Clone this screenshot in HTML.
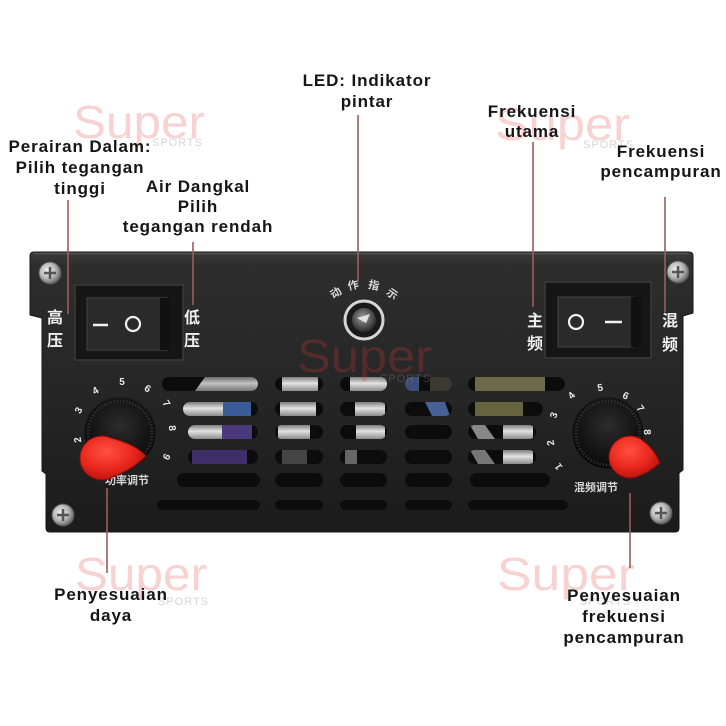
<!DOCTYPE html>
<html><head><meta charset="utf-8">
<style>
html,body{margin:0;padding:0;background:#fff;}
svg{display:block}
.lb{font-family:"Liberation Sans",Arial,sans-serif;font-weight:bold;font-size:17px;letter-spacing:0.9px;fill:#151515;}
.cn{font-family:"Liberation Sans","Noto Sans CJK SC",sans-serif;font-weight:bold;fill:#f0f0f0;font-size:16px;}
.cs{font-family:"Liberation Sans","Noto Sans CJK SC",sans-serif;font-weight:bold;fill:#d8d8d8;font-size:11px;}
.num{font-family:"Liberation Sans",sans-serif;font-weight:bold;fill:#e8e8e8;font-size:10px;}
.wm{font-family:"Liberation Sans",sans-serif;font-size:46px;fill:#e23b3b;opacity:.23;}
.wms{font-family:"Liberation Sans",sans-serif;font-size:11px;fill:#888;opacity:.35;letter-spacing:1px}
</style></head><body>
<svg width="726" height="726" viewBox="0 0 726 726" xmlns="http://www.w3.org/2000/svg">
<defs>
  <linearGradient id="pg" x1="0" y1="0" x2="0" y2="1">
    <stop offset="0" stop-color="#3c3c3c"/>
    <stop offset="0.05" stop-color="#2d2d2d"/>
    <stop offset="0.5" stop-color="#262626"/>
    <stop offset="1" stop-color="#1b1b1b"/>
  </linearGradient>
  <radialGradient id="sc" cx="0.4" cy="0.4" r="0.6">
    <stop offset="0" stop-color="#f2f2f2"/>
    <stop offset="0.6" stop-color="#b5b5b5"/>
    <stop offset="1" stop-color="#6a6a6a"/>
  </radialGradient>
  <radialGradient id="red" cx="0.4" cy="0.35" r="0.7">
    <stop offset="0" stop-color="#ff5040"/>
    <stop offset="0.6" stop-color="#e8261c"/>
    <stop offset="1" stop-color="#b0120c"/>
  </radialGradient>
  <radialGradient id="cyl" cx="0.5" cy="0.4" r="0.6">
    <stop offset="0" stop-color="#2c2c2c"/>
    <stop offset="1" stop-color="#080808"/>
  </radialGradient>
  <radialGradient id="lens" cx="0.45" cy="0.4" r="0.6">
    <stop offset="0" stop-color="#9a9a9a"/>
    <stop offset="1" stop-color="#2a2a2a"/>
  </radialGradient>
  <linearGradient id="sil" x1="0" y1="0" x2="0" y2="1">
    <stop offset="0" stop-color="#7d7d7d"/>
    <stop offset="0.45" stop-color="#e2e2e2"/>
    <stop offset="1" stop-color="#8a8a8a"/>
  </linearGradient>
  <clipPath id="slots">
    <rect x="162" y="377" width="96" height="14" rx="7"/>
    <rect x="183" y="402" width="75" height="14" rx="7"/>
    <rect x="188" y="425" width="70" height="14" rx="7"/>
    <rect x="188" y="450" width="70" height="14" rx="7"/>
    <rect x="177" y="473" width="83" height="14" rx="7"/>
    <rect x="157" y="500" width="103" height="10" rx="5"/>
    <rect x="275" y="377" width="48" height="14" rx="7"/>
    <rect x="275" y="402" width="48" height="14" rx="7"/>
    <rect x="275" y="425" width="48" height="14" rx="7"/>
    <rect x="275" y="450" width="48" height="14" rx="7"/>
    <rect x="275" y="473" width="48" height="14" rx="7"/>
    <rect x="275" y="500" width="48" height="10" rx="5"/>
    <rect x="340" y="377" width="47" height="14" rx="7"/>
    <rect x="340" y="402" width="47" height="14" rx="7"/>
    <rect x="340" y="425" width="47" height="14" rx="7"/>
    <rect x="340" y="450" width="47" height="14" rx="7"/>
    <rect x="340" y="473" width="47" height="14" rx="7"/>
    <rect x="340" y="500" width="47" height="10" rx="5"/>
    <rect x="405" y="377" width="47" height="14" rx="7"/>
    <rect x="405" y="402" width="47" height="14" rx="7"/>
    <rect x="405" y="425" width="47" height="14" rx="7"/>
    <rect x="405" y="450" width="47" height="14" rx="7"/>
    <rect x="405" y="473" width="47" height="14" rx="7"/>
    <rect x="405" y="500" width="47" height="10" rx="5"/>
    <rect x="468" y="377" width="97" height="14" rx="7"/>
    <rect x="468" y="402" width="75" height="14" rx="7"/>
    <rect x="468" y="425" width="68" height="14" rx="7"/>
    <rect x="468" y="450" width="68" height="14" rx="7"/>
    <rect x="470" y="473" width="80" height="14" rx="7"/>
    <rect x="468" y="500" width="100" height="10" rx="5"/>
  </clipPath>
</defs>

<rect width="726" height="726" fill="#fff"/>

<!-- Panel -->
<path d="M34,252 L689,252 Q693,252 693,256 L693,313 L683,316 L683,470 L679,473 L679,528 Q679,532 675,532 L50,532 Q46,532 46,528 L46,474 L42,471 L42,318 L30,315 L30,256 Q30,252 34,252 Z" fill="url(#pg)" stroke="#151515" stroke-width="1"/>
<line x1="34" y1="253.5" x2="689" y2="253.5" stroke="#585858" stroke-width="1.2"/>

<!-- Screws -->
<g>
  <circle cx="50" cy="273" r="11" fill="url(#sc)" stroke="#555"/>
  <path d="M44,273 H56 M50,267 V279" stroke="#555" stroke-width="2.5"/>
  <circle cx="63" cy="515" r="11" fill="url(#sc)" stroke="#555"/>
  <path d="M57,515 H69 M63,509 V521" stroke="#555" stroke-width="2.5"/>
  <circle cx="678" cy="272" r="11" fill="url(#sc)" stroke="#555"/>
  <path d="M672,272 H684 M678,266 V278" stroke="#555" stroke-width="2.5"/>
  <circle cx="661" cy="513" r="11" fill="url(#sc)" stroke="#555"/>
  <path d="M655,513 H667 M661,507 V519" stroke="#555" stroke-width="2.5"/>
</g>

<!-- Left switch -->
<rect x="75" y="285" width="108" height="75" fill="#161616" stroke="#3a3a3a" stroke-width="1.5"/>
<rect x="87" y="298" width="80" height="52" fill="#2a2a2a" stroke="#444" stroke-width="1"/>
<rect x="160" y="298" width="10" height="52" fill="#111"/>
<line x1="93" y1="325" x2="108" y2="325" stroke="#f0f0f0" stroke-width="2.5"/>
<circle cx="133" cy="324" r="7" fill="none" stroke="#f0f0f0" stroke-width="2.2"/>

<!-- Right switch -->
<rect x="545" y="282" width="106" height="76" fill="#161616" stroke="#3a3a3a" stroke-width="1.5"/>
<rect x="558" y="297" width="75" height="50" fill="#2a2a2a" stroke="#444" stroke-width="1"/>
<rect x="631" y="297" width="10" height="50" fill="#111"/>
<circle cx="576" cy="322" r="7" fill="none" stroke="#f0f0f0" stroke-width="2.2"/>
<line x1="605" y1="322" x2="622" y2="322" stroke="#f0f0f0" stroke-width="2.5"/>

<!-- Chinese switch labels -->
<text class="cn" x="55" y="323" text-anchor="middle">高</text>
<text class="cn" x="55" y="346" text-anchor="middle">压</text>
<text class="cn" x="192" y="323" text-anchor="middle">低</text>
<text class="cn" x="192" y="346" text-anchor="middle">压</text>
<text class="cn" x="535" y="326" text-anchor="middle">主</text>
<text class="cn" x="535" y="349" text-anchor="middle">频</text>
<text class="cn" x="670" y="326" text-anchor="middle">混</text>
<text class="cn" x="670" y="350" text-anchor="middle">频</text>

<!-- LED -->
<circle cx="364" cy="320" r="19" fill="#1a1a1a" stroke="#d5d5d5" stroke-width="3"/>
<circle cx="364" cy="320" r="12" fill="url(#lens)"/>
<path d="M357,318 L370,314 L366,323 Z" fill="#e0e0e0"/>
<text class="cs" transform="translate(338,296) rotate(-35)" text-anchor="middle">动</text>
<text class="cs" transform="translate(354,289) rotate(-12)" text-anchor="middle">作</text>
<text class="cs" transform="translate(373,289) rotate(12)" text-anchor="middle">指</text>
<text class="cs" transform="translate(390,297) rotate(35)" text-anchor="middle">示</text>

<!-- Vents -->
<g clip-path="url(#slots)">
  <rect x="150" y="370" width="430" height="145" fill="#0c0c0c"/>
  <polygon points="205,377 258,377 258,391 195,391" fill="url(#sil)" opacity="0.85"/>
  <rect x="183" y="402" width="40" height="14" fill="url(#sil)"/>
  <rect x="223" y="402" width="28" height="14" fill="#3a5a9a"/>
  <rect x="188" y="425" width="34" height="14" fill="url(#sil)"/>
  <rect x="222" y="425" width="30" height="14" fill="#4a3a7a"/>
  <rect x="192" y="450" width="55" height="14" fill="#3e2f6a"/>
  <rect x="282" y="377" width="36" height="14" fill="url(#sil)"/>
  <rect x="280" y="402" width="36" height="14" fill="url(#sil)"/>
  <rect x="278" y="425" width="32" height="14" fill="url(#sil)"/>
  <rect x="282" y="450" width="25" height="14" fill="#444"/>
  <rect x="350" y="377" width="37" height="14" fill="url(#sil)"/>
  <rect x="355" y="402" width="30" height="14" fill="url(#sil)"/>
  <rect x="356" y="425" width="29" height="14" fill="url(#sil)"/>
  <rect x="345" y="450" width="12" height="14" fill="#666"/>
  <rect x="405" y="377" width="14" height="14" fill="#3c4f78"/>
  <rect x="430" y="377" width="22" height="14" fill="#3a3a30"/>
  <polygon points="425,402 445,402 450,416 432,416" fill="#48609a"/>
  <rect x="475" y="377" width="70" height="14" fill="#6d6a4c"/>
  <rect x="475" y="402" width="48" height="14" fill="#66633f"/>
  <polygon points="470,425 485,425 495,439 478,439" fill="#888"/>
  <rect x="503" y="425" width="30" height="14" fill="url(#sil)"/>
  <polygon points="470,450 485,450 495,464 478,464" fill="#777"/>
  <rect x="503" y="450" width="30" height="14" fill="url(#sil)"/>
</g>

<!-- Left knob -->
<text class="cs" x="127" y="484" text-anchor="middle" fill="#cfcfcf">功率调节</text>
<circle cx="120" cy="433" r="36" fill="url(#cyl)" stroke="#222"/>
<circle cx="120" cy="433" r="32" fill="none" stroke="#333" stroke-width="3" stroke-dasharray="1.2 2"/>
<g text-anchor="middle">
  <text class="num" transform="translate(77,440) rotate(-99)" dy="4">2</text>
  <text class="num" transform="translate(78,410) rotate(-61)" dy="4">3</text>
  <text class="num" transform="translate(95,390) rotate(-30)" dy="4">4</text>
  <text class="num" transform="translate(122,381)" dy="4">5</text>
  <text class="num" transform="translate(148,388) rotate(32)" dy="4">6</text>
  <text class="num" transform="translate(167,403) rotate(57)" dy="4">7</text>
  <text class="num" transform="translate(173,428) rotate(85)" dy="4">8</text>
  <text class="num" transform="translate(167,457) rotate(117)" dy="4">9</text>
</g>
<path d="M111.3,438.1 Q135,444 146,456 Q132,470 114.6,476 A22,22 0 1,1 111.3,438.1 Z" fill="url(#red)" stroke="#8a0d08" stroke-width="1"/>

<!-- Right knob -->
<text class="cs" x="596" y="491" text-anchor="middle" fill="#cfcfcf">混频调节</text>
<circle cx="608" cy="433" r="36" fill="url(#cyl)" stroke="#222"/>
<circle cx="608" cy="433" r="32" fill="none" stroke="#333" stroke-width="3" stroke-dasharray="1.2 2"/>
<g text-anchor="middle">
  <text class="num" transform="translate(558,467) rotate(-124)" dy="4">1</text>
  <text class="num" transform="translate(550,443) rotate(-100)" dy="4">2</text>
  <text class="num" transform="translate(553,415) rotate(-72)" dy="4">3</text>
  <text class="num" transform="translate(571,395) rotate(-44)" dy="4">4</text>
  <text class="num" transform="translate(600,387) rotate(-10)" dy="4">5</text>
  <text class="num" transform="translate(626,395) rotate(25)" dy="4">6</text>
  <text class="num" transform="translate(641,408) rotate(53)" dy="4">7</text>
  <text class="num" transform="translate(648,432) rotate(88)" dy="4">8</text>
</g>
<path d="M642,439.8 Q655,450 660,463 Q650,472 638.9,476 A21,21 0 1,1 642,439.8 Z" fill="url(#red)" stroke="#8a0d08" stroke-width="1"/>

<!-- Watermarks -->
<text class="wm" x="73" y="138" textLength="132" lengthAdjust="spacingAndGlyphs">Super</text>
<text class="wms" x="152" y="146">SPORTS</text>
<text class="wm" x="495" y="140" textLength="135" lengthAdjust="spacingAndGlyphs">Super</text>
<text class="wms" x="583" y="148">SPORTS</text>
<text class="wm" x="297" y="372" textLength="135" lengthAdjust="spacingAndGlyphs">Super</text>
<text class="wms" x="380" y="382">SPORTS</text>
<text class="wm" x="75" y="590" textLength="132" lengthAdjust="spacingAndGlyphs">Super</text>
<text class="wms" x="158" y="605">SPORTS</text>
<text class="wm" x="497" y="590" textLength="138" lengthAdjust="spacingAndGlyphs">Super</text>
<text class="wms" x="580" y="605">SPORTS</text>

<!-- Leader lines -->
<g stroke="#9e5c5c" stroke-width="1.6">
  <line x1="68" y1="200" x2="68" y2="314"/>
  <line x1="193" y1="242" x2="193" y2="305"/>
  <line x1="358" y1="115" x2="358" y2="282"/>
  <line x1="533" y1="142" x2="533" y2="307"/>
  <line x1="665" y1="197" x2="665" y2="312"/>
  <line x1="107" y1="488" x2="107" y2="573"/>
  <line x1="630" y1="493" x2="630" y2="568"/>
</g>

<!-- Labels -->
<g text-anchor="middle">
  <text class="lb" x="80" y="152">Perairan Dalam:</text>
  <text class="lb" x="80" y="173">Pilih tegangan</text>
  <text class="lb" x="80" y="194">tinggi</text>

  <text class="lb" x="198" y="192">Air Dangkal</text>
  <text class="lb" x="198" y="212">Pilih</text>
  <text class="lb" x="198" y="232">tegangan rendah</text>

  <text class="lb" x="367" y="86">LED: Indikator</text>
  <text class="lb" x="367" y="107">pintar</text>

  <text class="lb" x="532" y="117">Frekuensi</text>
  <text class="lb" x="532" y="137">utama</text>

  <text class="lb" x="661" y="157">Frekuensi</text>
  <text class="lb" x="661" y="177">pencampuran</text>

  <text class="lb" x="111" y="600">Penyesuaian</text>
  <text class="lb" x="111" y="621">daya</text>

  <text class="lb" x="624" y="601">Penyesuaian</text>
  <text class="lb" x="624" y="622">frekuensi</text>
  <text class="lb" x="624" y="643">pencampuran</text>
</g>
</svg>
</body></html>
